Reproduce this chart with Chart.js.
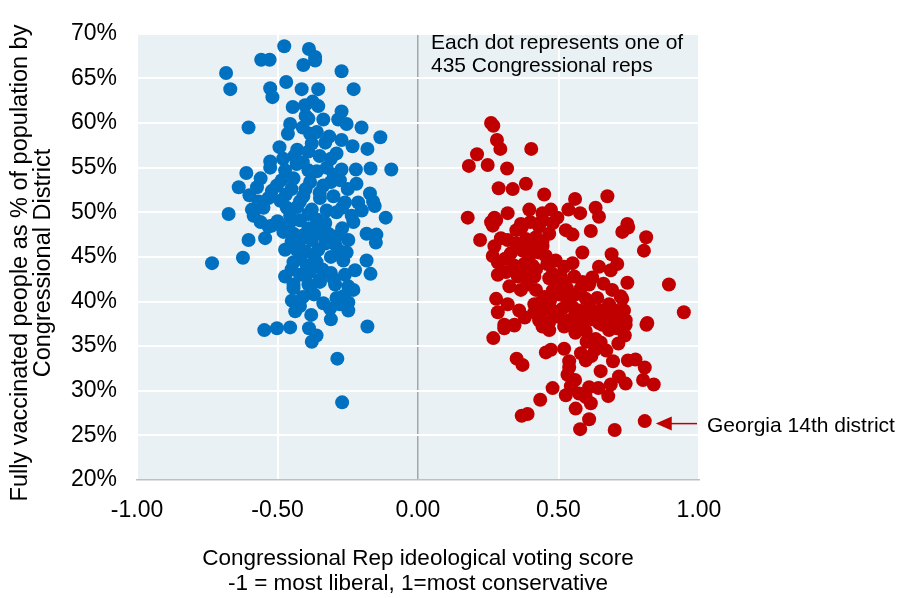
<!DOCTYPE html>
<html><head><meta charset="utf-8">
<script src="https://cdn.jsdelivr.net/npm/chart.js@4"></script>
<style>html,body{margin:0;padding:0;background:#fff}#wrap{width:899px;height:598px;position:relative}</style>
</head><body><div id="wrap"><canvas id="c" width="899" height="598"></canvas></div>
<script>
// Democrats (blue)
const demX = [-0.476,-0.388,-0.366,-0.366,-0.408,-0.558,-0.528,-0.683,-0.272,-0.668,-0.526,-0.518,-0.469,-0.414,-0.355,-0.229,-0.446,-0.402,-0.375,-0.355,-0.603,-0.455,-0.463,-0.40,-0.39,-0.337,-0.272,-0.284,-0.254,-0.201,-0.134,-0.316,-0.272,-0.384,-0.378,-0.493,-0.233,-0.18,-0.29,-0.39,-0.526,-0.526,-0.611,-0.638,-0.573,-0.473,-0.432,-0.39,-0.325,-0.272,-0.221,-0.169,-0.095,-0.502,-0.485,-0.443,-0.384,-0.337,-0.278,-0.219,-0.171,-0.16,-0.154,-0.115,-0.567,-0.532,-0.591,-0.585,-0.674,-0.55,-0.467,-0.455,-0.42,-0.408,-0.378,-0.349,-0.301,-0.26,-0.213,-0.325,-0.29,-0.236,-0.23,-0.42,-0.52,-0.532,-0.544,-0.603,-0.479,-0.443,-0.39,-0.349,-0.319,-0.183,-0.148,-0.15,-0.42,-0.378,-0.295,-0.248,-0.623,-0.733,-0.473,-0.432,-0.355,-0.254,-0.266,-0.183,-0.224,-0.169,-0.443,-0.396,-0.361,-0.473,-0.42,-0.384,-0.349,-0.295,-0.248,-0.443,-0.39,-0.443,-0.384,-0.349,-0.23,-0.449,-0.437,-0.337,-0.313,-0.29,-0.266,-0.248,-0.248,-0.278,-0.547,-0.502,-0.455,-0.388,-0.361,-0.378,-0.18,-0.287,-0.27,
-0.41,-0.36,-0.33,-0.43,-0.35,-0.31,-0.41,-0.36,-0.30,-0.45,-0.40,-0.35,-0.31,-0.25,-0.43,-0.39,-0.36,-0.33,-0.27,-0.46,-0.41,-0.36,-0.33,-0.29,-0.45,-0.40,-0.37,-0.31,-0.28,-0.42,-0.34,-0.31,-0.40,-0.37,-0.41,-0.45,-0.26,-0.30,-0.47,-0.49,-0.52,-0.56,-0.60,-0.50,-0.56,-0.27,-0.20,-0.38,-0.42,-0.31,-0.44,-0.48];
const demY = [68.6,68.3,67.4,67.0,66.5,67.1,67.1,65.6,65.8,63.8,63.9,62.9,64.6,63.8,63.8,63.8,61.8,62.0,62.4,61.9,59.5,59.9,58.8,60.8,60.5,60.4,61.3,60.4,59.9,59.5,58.4,58.5,58.1,58.8,57.7,57.3,57.4,57.1,56.6,56.8,55.7,55.0,54.4,52.8,52.8,54.7,55.4,54.7,55.0,54.8,54.8,54.9,54.8,53.0,53.6,53.8,53.4,53.0,53.6,53.2,52.1,51.2,50.7,49.4,51.2,51.6,50.3,49.6,49.8,50.5,50.5,49.6,51.2,51.8,50.3,51.6,51.8,51.1,51.1,50.2,50.0,49.6,48.9,49.1,48.5,48.4,47.1,46.9,47.8,47.6,48.2,48.5,47.6,47.6,47.5,46.6,46.8,46.9,46.4,46.9,44.9,44.3,45.8,45.8,45.8,45.5,44.6,44.6,43.5,43.1,44.4,44.0,44.4,42.8,43.0,43.3,42.4,41.9,41.7,41.9,41.9,41.5,41.7,42.2,41.3,40.1,38.9,39.8,39.2,40.4,40.6,39.9,39.0,39.7,36.8,37.0,37.1,37.0,36.2,35.5,37.2,33.6,28.7,
59.5,59.0,57.8,57.0,56.3,56.0,55.6,54.6,54.2,52.6,52.6,52.2,53.4,52.6,50.6,49.8,49.2,48.8,48.2,48.6,47.4,47.6,46.5,47.3,46.7,45.6,45.1,45.0,45.7,44.8,43.6,43.2,43.0,40.8,40.5,43.6,43.0,42.5,52.0,51.3,52.4,53.8,51.9,49.0,48.9,50.5,50.2,38.5,39.5,38.0,56.3,56.0];
// Republicans (red)
const repX = [0.26,0.268,0.281,0.293,0.21,0.403,0.181,0.248,0.317,0.287,0.337,0.384,0.449,0.559,0.674,0.535,0.577,0.632,0.644,0.177,0.272,0.26,0.319,0.396,0.443,0.473,0.496,0.366,0.745,0.278,0.266,0.369,0.384,0.431,0.443,0.467,0.526,0.55,0.615,0.727,0.748,0.812,0.804,0.221,0.272,0.295,0.319,0.266,0.284,0.372,0.396,0.431,0.455,0.443,0.443,0.343,0.378,0.408,0.284,0.313,0.355,0.414,0.585,0.689,0.709,0.686,0.644,0.467,0.479,0.508,0.52,0.556,0.585,0.609,0.745,0.893,0.325,0.366,0.42,0.479,0.502,0.561,0.597,0.638,0.691,0.721,0.727,0.278,0.319,0.284,0.414,0.437,0.414,0.443,0.479,0.514,0.55,0.573,0.597,0.632,0.68,0.703,0.733,0.946,0.68,0.715,0.739,0.816,0.307,0.343,0.431,0.467,0.538,0.585,0.644,0.307,0.343,0.268,0.443,0.467,0.561,0.597,0.632,0.65,0.656,0.68,0.709,0.739,0.736,0.713,0.813,0.351,0.372,0.455,0.473,0.52,0.538,0.538,0.597,0.617,0.694,0.65,0.747,0.774,0.807,0.532,0.559,0.715,0.686,0.739,0.801,0.839,0.544,0.573,0.609,0.642,0.677,0.526,0.597,0.615,0.479,0.435,0.561,0.609,0.369,0.39,0.577,0.7,0.807,
0.40,0.42,0.35,0.33,0.38,0.42,0.46,0.49,0.52,0.55,0.50,0.53,0.45,0.47,0.53,0.58,0.62,0.66,0.61,0.65,0.50,0.52,0.56,0.60,0.63,0.67,0.58,0.56,0.39,0.36,0.38,0.31,0.35,0.48,0.40,0.62,0.69];
const repY = [60.0,59.7,58.1,57.1,56.5,57.1,55.2,55.3,54.9,52.7,52.6,53.2,52.0,51.5,51.8,50.3,49.9,50.5,49.5,49.4,49.4,48.9,49.9,50.3,49.9,50.3,49.4,48.7,48.7,49.1,48.5,48.3,47.0,48.4,49.1,47.6,48.0,47.5,47.9,47.8,48.3,47.2,45.7,46.9,46.2,47.1,46.9,45.1,44.4,45.7,45.1,45.5,45.1,46.2,46.7,44.0,44.2,44.0,43.0,43.3,42.8,42.8,45.5,45.3,44.2,43.5,43.9,42.6,43.1,42.8,42.1,42.8,42.2,41.9,42.1,41.9,41.7,41.3,41.3,41.2,40.8,40.8,40.3,40.4,41.3,40.6,40.3,40.3,39.7,38.8,39.7,39.9,38.8,39.0,39.0,39.2,39.4,39.0,38.6,38.3,39.7,39.0,39.0,38.8,37.9,38.3,37.9,37.6,37.4,37.4,37.9,37.7,37.9,37.6,37.6,37.0,37.3,35.9,37.2,36.8,37.6,36.7,35.8,35.4,37.4,36.8,37.0,37.4,36.2,35.3,37.4,33.6,32.9,34.3,34.6,34.7,33.3,32.6,33.4,33.9,33.3,32.2,33.4,33.5,32.6,31.8,31.2,31.6,30.7,30.8,31.2,30.7,30.5,29.7,30.4,30.3,29.4,29.5,29.3,28.6,30.3,29.0,28.0,26.8,27.2,27.4,25.7,25.6,26.6,
46.3,47.2,46.5,45.4,43.2,43.6,44.2,44.6,43.9,44.3,41.8,41.5,40.5,40.1,40.2,41.5,42.7,42.0,39.4,39.0,38.3,37.2,36.5,35.5,34.6,34.5,34.2,38.7,41.9,39.0,38.2,44.8,48.0,48.8,48.9,38.0,38.4];

const xTicks = [-1, -0.5, 0, 0.5, 1];
const yTicks = [20, 25, 30, 35, 40, 45, 50, 55, 60, 65, 70];
const noteLines = ['Each dot represents one of', '435 Congressional reps'];
const calloutLabel = 'Georgia 14th district';
const calloutPoint = {x: 0.807, y: 26.6};
const yTitleLines = ['Fully vaccinated people as % of population by', 'Congressional District'];
const xTitleLines = ['Congressional Rep ideological voting score', '-1 = most liberal, 1=most conservative'];

const FONT = '"Liberation Sans", Arial, sans-serif';
const BLUE = '#0070C0', RED = '#C00000';

const dem = demX.map((x, i) => ({x, y: demY[i]}));
const rep = repX.map((x, i) => ({x, y: repY[i]}));

const bgPlugin = {
  id: 'bg',
  beforeDraw(chart) {
    const {ctx, chartArea: a} = chart;
    ctx.save();
    ctx.fillStyle = '#EAF1F5';
    ctx.fillRect(a.left, a.top, a.right - a.left, a.bottom - a.top);
    ctx.restore();
  }
};

const textPlugin = {
  id: 'texts',
  afterDraw(chart) {
    const {ctx, chartArea: a, scales} = chart;
    ctx.save();
    ctx.fillStyle = '#000';
    ctx.font = '21px ' + FONT;
    ctx.textAlign = 'left';
    ctx.textBaseline = 'alphabetic';
    ctx.fillText(noteLines[0], 431, 49);
    ctx.fillText(noteLines[1], 431, 72);
    // callout
    const px = scales.x.getPixelForValue(calloutPoint.x);
    const py = scales.y.getPixelForValue(calloutPoint.y);
    const tipX = px + 11, yy = py + 2.5;
    ctx.strokeStyle = RED; ctx.fillStyle = RED; ctx.lineWidth = 1.5;
    ctx.beginPath(); ctx.moveTo(697, yy); ctx.lineTo(tipX + 14, yy); ctx.stroke();
    ctx.beginPath(); ctx.moveTo(tipX, yy); ctx.lineTo(tipX + 16, yy - 7); ctx.lineTo(tipX + 16, yy + 7); ctx.closePath(); ctx.fill();
    ctx.fillStyle = '#000';
    ctx.fillText(calloutLabel, 707, 432);
    // x title
    ctx.font = '22.5px ' + FONT;
    ctx.textAlign = 'center';
    ctx.fillText(xTitleLines[0], 418, 565);
    ctx.fillText(xTitleLines[1], 418, 590);
    // y title
    ctx.font = '23.5px ' + FONT;
    ctx.translate(0, 263);
    ctx.rotate(-Math.PI / 2);
    ctx.fillText(yTitleLines[0], 0, 27);
    ctx.fillText(yTitleLines[1], 0, 50);
    ctx.restore();
  }
};

new Chart(document.getElementById('c'), {
  type: 'scatter',
  data: {
    datasets: [
      {label: 'Democrat', data: dem, backgroundColor: BLUE, borderWidth: 0, pointRadius: 7, pointHoverRadius: 7},
      {label: 'Republican', data: rep, backgroundColor: RED, borderWidth: 0, pointRadius: 7, pointHoverRadius: 7}
    ]
  },
  options: {
    responsive: false,
    animation: false,
    devicePixelRatio: 1,
    layout: {padding: {top: 19, right: 200, left: 0, bottom: 0}},
    plugins: {legend: {display: false}, tooltip: {enabled: false}},
    scales: {
      x: {
        type: 'linear', min: -1, max: 1,
        afterBuildTicks(s) { s.ticks = xTicks.map(v => ({value: v})); },
        afterFit(s) { s.height = 118; },
        ticks: {font: {family: FONT, size: 23}, color: '#000', padding: 17, callback: v => v.toFixed(2)},
        grid: {
          drawTicks: false,
          color: c => c.tick && c.tick.value === 0 ? '#A6A6A6' : '#FFFFFF',
          lineWidth: c => c.tick && c.tick.value === 0 ? 1.5 : 2
        },
        border: {display: true, color: '#BFBFBF', width: 1.5}
      },
      y: {
        type: 'linear', min: 20, max: 70,
        afterBuildTicks(s) { s.ticks = yTicks.map(v => ({value: v})); },
        afterFit(s) { s.width = 137; },
        ticks: {font: {family: FONT, size: 23}, color: '#000', padding: 20, callback: v => v + '%'},
        grid: {drawTicks: false, color: '#FFFFFF', lineWidth: 2},
        border: {display: false}
      }
    }
  },
  plugins: [bgPlugin, textPlugin]
});
</script></body></html>
